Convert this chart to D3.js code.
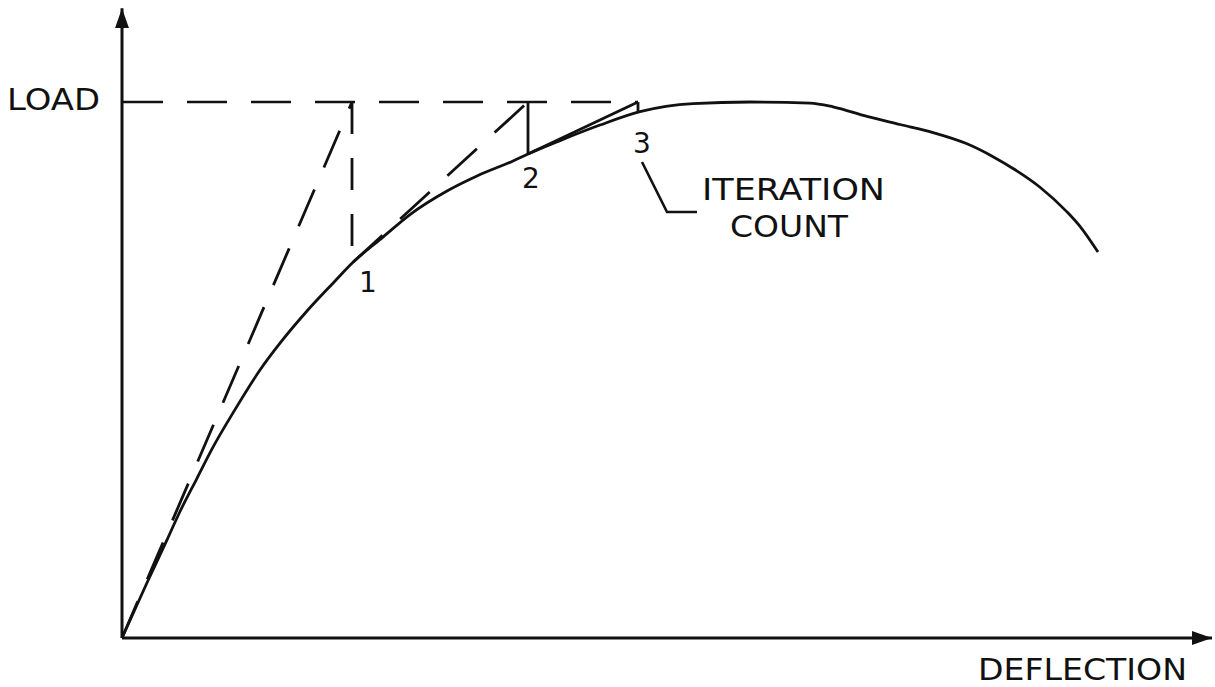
<!DOCTYPE html>
<html>
<head>
<meta charset="utf-8">
<script src="https://cdn.jsdelivr.net/npm/d3@7"></script>
<style>
  body { margin: 0; background: #fff; }
  svg text { font-family: "DejaVu Sans", sans-serif; fill: #111; }
</style>
</head>
<body>
<script>
// load–deflection curve (deflection in arbitrary units, load as fraction of applied load)
const curveDeflection = [0, 0.25, 0.45, 0.58, 0.75, 0.91, 1.11, 1.38, 1.58, 1.85, 2.11, 2.31, 2.61, 2.88, 3.25, 3.55, 3.91, 4.06, 4.38, 4.78, 5.18, 5.71, 6.28, 6.88, 7.11, 7.45, 7.78, 8.11, 8.45, 8.71, 8.91, 9.18, 9.45, 9.58, 9.76]
const curveLoad = [0, 0.103, 0.183, 0.236, 0.298, 0.356, 0.420, 0.500, 0.550, 0.610, 0.662, 0.701, 0.748, 0.790, 0.834, 0.862, 0.890, 0.903, 0.928, 0.957, 0.982, 0.997, 1.0, 0.998, 0.991, 0.973, 0.958, 0.943, 0.922, 0.898, 0.876, 0.841, 0.795, 0.768, 0.720]

// applied load level
const loadLevel = 1.0

// newton iterations: start point on curve, apex at load level, return point on curve
const iterLabels = ['1', '2', '3']
const iterStartX = [0, 2.31, 4.06]
const iterStartY = [0, 0.701, 0.903]
const iterApexX = [2.30, 4.06, 5.16]
const iterEndY = [0.701, 0.903, 0.982]

// axis extents and labels
const xMax = 10.9
const yMax = 1.175
const xAxisLabel = 'DEFLECTION'
const yAxisLabel = 'LOAD'
const noteLines = ['ITERATION', 'COUNT']

const width = 1215
const height = 687

const xScale = d3.scaleLinear().domain([0, xMax]).range([122, 1212])
const yScale = d3.scaleLinear().domain([0, 1]).range([638, 102])

const svg = d3.select('body')
  .append('svg')
  .attr('width', width)
  .attr('height', height)

// arrow heads
const defs = svg.append('defs')
defs.append('marker')
  .attr('id', 'arrow')
  .attr('viewBox', '0 0 20 16')
  .attr('refX', 20)
  .attr('refY', 8)
  .attr('markerWidth', 20)
  .attr('markerHeight', 16)
  .attr('markerUnits', 'userSpaceOnUse')
  .attr('orient', 'auto')
  .append('path')
  .attr('d', 'M0,1 L20,8 L0,15 Z')
  .attr('fill', '#111')

const ink = '#111'
const dash = '40,24'

// axes
svg.append('line')
  .attr('x1', xScale(0)).attr('y1', yScale(0))
  .attr('x2', xScale(xMax)).attr('y2', yScale(0))
  .attr('stroke', ink).attr('stroke-width', 3)
  .attr('marker-end', 'url(#arrow)')

svg.append('line')
  .attr('x1', xScale(0)).attr('y1', yScale(0))
  .attr('x2', xScale(0)).attr('y2', yScale(yMax))
  .attr('stroke', ink).attr('stroke-width', 3)
  .attr('marker-end', 'url(#arrow)')

// load level dashed line
svg.append('line')
  .attr('x1', xScale(0) + 1).attr('y1', yScale(loadLevel))
  .attr('x2', xScale(iterApexX[2])).attr('y2', yScale(loadLevel))
  .attr('stroke', ink).attr('stroke-width', 2.6)
  .attr('stroke-dasharray', dash)

// curve
const curvePts = curveDeflection.map((d, i) => [d, curveLoad[i]])
const line = d3.line()
  .x(d => xScale(d[0]))
  .y(d => yScale(d[1]))
  .curve(d3.curveMonotoneX)

svg.append('path')
  .datum(curvePts)
  .attr('d', line)
  .attr('fill', 'none')
  .attr('stroke', ink)
  .attr('stroke-width', 2.8)

// iterations: tangent up to load level, then drop back to the curve
const iter = svg.append('g')
iterLabels.forEach((lab, i) => {
  const tangentDashed = i < 2
  const dropDashed = i < 1
  iter.append('line')
    .attr('x1', xScale(iterStartX[i])).attr('y1', yScale(iterStartY[i]))
    .attr('x2', xScale(iterApexX[i])).attr('y2', yScale(loadLevel))
    .attr('stroke', ink).attr('stroke-width', 2.8)
    .attr('stroke-dasharray', tangentDashed ? dash : null)
  iter.append('line')
    .attr('x1', xScale(iterApexX[i])).attr('y1', yScale(loadLevel))
    .attr('x2', xScale(iterApexX[i])).attr('y2', yScale(iterEndY[i]))
    .attr('stroke', ink).attr('stroke-width', 2.8)
    .attr('stroke-dasharray', dropDashed ? '32,24' : null)
})

// iteration numbers
const labelOffsets = [[16, 30], [3, 34], [4, 41]]
iter.selectAll('text')
  .data(iterLabels)
  .enter()
  .append('text')
  .attr('x', (d, i) => xScale(iterApexX[i]) + labelOffsets[i][0])
  .attr('y', (d, i) => yScale(iterEndY[i]) + labelOffsets[i][1])
  .attr('text-anchor', 'middle')
  .attr('font-size', 28)
  .text(d => d)

// leader line to the note
svg.append('path')
  .attr('d', `M${xScale(iterApexX[2]) + 4},162 L667,212 L697,212`)
  .attr('fill', 'none')
  .attr('stroke', ink)
  .attr('stroke-width', 2.6)

svg.append('text')
  .attr('x', 702).attr('y', 200)
  .attr('font-size', 31)
  .attr('textLength', 183).attr('lengthAdjust', 'spacingAndGlyphs')
  .text(noteLines[0])

svg.append('text')
  .attr('x', 730).attr('y', 237)
  .attr('font-size', 31)
  .attr('textLength', 118).attr('lengthAdjust', 'spacingAndGlyphs')
  .text(noteLines[1])

// axis labels
svg.append('text')
  .attr('x', 7).attr('y', 110)
  .attr('font-size', 31)
  .attr('textLength', 93).attr('lengthAdjust', 'spacingAndGlyphs')
  .text(yAxisLabel)

svg.append('text')
  .attr('x', 978).attr('y', 680)
  .attr('font-size', 31)
  .attr('textLength', 209).attr('lengthAdjust', 'spacingAndGlyphs')
  .text(xAxisLabel)
</script>
</body>
</html>
